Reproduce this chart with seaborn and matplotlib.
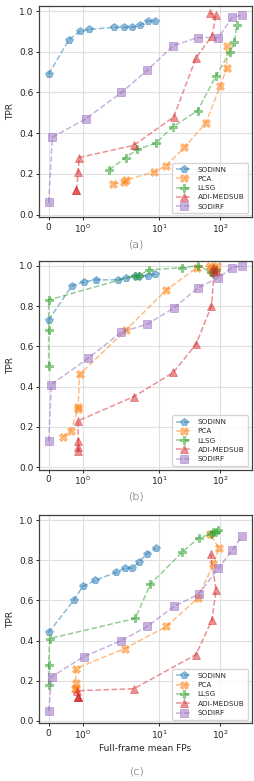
import matplotlib
matplotlib.use("Agg")
import matplotlib.pyplot as plt
import seaborn as sns
import pandas as pd

# --- Data ---
METHODS = ["SODINN", "PCA", "LLSG", "ADI-MEDSUB", "SODIRF"]
PANEL_LABELS = ["(a)", "(b)", "(c)"]
X_TICKS = [0, 1, 10, 100]
X_TICK_LABELS = ["0", "$10^0$", "$10^1$", "$10^2$"]

# panel (a)
A_SODINN_X = [0, 0.6, 0.92, 1.19, 1.94, 2.69, 3.59, 4.79, 6.46, 8.71]
A_SODINN_Y = [0.69, 0.86, 0.90, 0.91, 0.92, 0.92, 0.92, 0.93, 0.95, 0.95]
A_PCA_X = [1.90, 2.69, 2.92, 8.41, 13.0, 26.1, 58.5, 100, 129, 129]
A_PCA_Y = [0.15, 0.16, 0.17, 0.21, 0.24, 0.33, 0.45, 0.63, 0.72, 0.83]
A_LLSG_X = [1.79, 2.84, 4.37, 8.79, 16.6, 42.7, 85.3, 146, 172, 188]
A_LLSG_Y = [0.22, 0.28, 0.32, 0.35, 0.43, 0.51, 0.68, 0.80, 0.85, 0.93]
A_ADI_X = [0.82, 0.82, 0.87, 0.90, 3.85, 17.4, 40.3, 74.2, 85.3, 68.7]
A_ADI_Y = [0.12, 0.12, 0.21, 0.28, 0.34, 0.48, 0.77, 0.88, 0.98, 0.99]
A_SODIRF_X = [0, 0.11, 1.09, 2.42, 6.43, 17.1, 43.3, 94, 159, 229]
A_SODIRF_Y = [0.06, 0.38, 0.47, 0.60, 0.71, 0.83, 0.87, 0.87, 0.97, 0.98]

# panel (b)
B_SODINN_X = [0, 0.68, 1.04, 1.40, 2.09, 2.88, 3.98, 4.73, 6.46, 8.6]
B_SODINN_Y = [0.73, 0.90, 0.92, 0.93, 0.93, 0.94, 0.95, 0.95, 0.95, 0.96]
B_PCA_X = [0.42, 0.65, 0.87, 0.87, 0.91, 2.84, 13.2, 41.8, 68, 72, 78, 85, 90]
B_PCA_Y = [0.15, 0.18, 0.29, 0.30, 0.46, 0.68, 0.88, 0.99, 1.0, 0.98, 0.99, 0.97, 1.0]
B_LLSG_X = [0, 0, 0, 3.98, 4.7, 6.84, 23.7, 42.7, 70, 78, 85]
B_LLSG_Y = [0.50, 0.68, 0.83, 0.95, 0.95, 0.98, 0.99, 1.0, 0.97, 0.96, 0.98]
B_ADI_X = [0.87, 0.87, 0.87, 0.87, 3.85, 17.1, 40.3, 72.3, 80, 85, 76]
B_ADI_Y = [0.08, 0.10, 0.13, 0.23, 0.35, 0.47, 0.61, 0.80, 0.97, 0.98, 0.99]
B_SODIRF_X = [0, 0.08, 1.16, 2.40, 6.43, 17.4, 43.3, 94, 157, 229]
B_SODIRF_Y = [0.13, 0.41, 0.54, 0.67, 0.71, 0.79, 0.89, 0.94, 0.99, 1.0]

# panel (c)
C_SODINN_X = [0, 0.735, 1.01, 1.38, 2.0, 2.72, 3.55, 4.68, 6.24, 8.79]
C_SODINN_Y = [0.44, 0.60, 0.67, 0.70, 0.74, 0.76, 0.76, 0.79, 0.83, 0.86]
C_PCA_X = [0.77, 0.80, 0.80, 0.80, 2.72, 13.2, 42.7, 77.8, 96, 68.7]
C_PCA_Y = [0.16, 0.16, 0.19, 0.26, 0.36, 0.47, 0.61, 0.78, 0.86, 0.93]
C_LLSG_X = [0, 0, 0.03, 4.07, 7.16, 24, 44.3, 70, 78, 86, 94]
C_LLSG_Y = [0.18, 0.28, 0.41, 0.51, 0.68, 0.84, 0.91, 0.93, 0.94, 0.94, 0.95]
C_ADI_X = [0.87, 0.87, 0.87, 0.84, 3.85, 40.3, 73, 86, 70]
C_ADI_Y = [0.12, 0.12, 0.12, 0.15, 0.16, 0.33, 0.50, 0.65, 0.83]
C_SODIRF_X = [0, 0.09, 1.04, 2.42, 6.4, 17.6, 44.3, 94, 159, 229]
C_SODIRF_Y = [0.05, 0.22, 0.32, 0.40, 0.47, 0.57, 0.63, 0.76, 0.85, 0.92]

PANELS = [
    [(A_SODINN_X, A_SODINN_Y), (A_PCA_X, A_PCA_Y), (A_LLSG_X, A_LLSG_Y),
     (A_ADI_X, A_ADI_Y), (A_SODIRF_X, A_SODIRF_Y)],
    [(B_SODINN_X, B_SODINN_Y), (B_PCA_X, B_PCA_Y), (B_LLSG_X, B_LLSG_Y),
     (B_ADI_X, B_ADI_Y), (B_SODIRF_X, B_SODIRF_Y)],
    [(C_SODINN_X, C_SODINN_Y), (C_PCA_X, C_PCA_Y), (C_LLSG_X, C_LLSG_Y),
     (C_ADI_X, C_ADI_Y), (C_SODIRF_X, C_SODIRF_Y)],
]

# --- Style ---
MARKERS = ["p", "X", "P", "^", "s"]
COLORS = ["#1f77b4", "#ff7f0e", "#2ca02c", "#d62728", "#9467bd"]

sns.set_style("whitegrid", {
    "axes.edgecolor": ".25",
    "grid.color": ".88",
    "xtick.bottom": True,
    "ytick.left": True,
})
plt.rcParams["font.family"] = ["DejaVu Sans"]
plt.rcParams["xtick.major.size"] = 2.5
plt.rcParams["ytick.major.size"] = 2.5
plt.rcParams["xtick.major.width"] = 0.7
plt.rcParams["ytick.major.width"] = 0.7
plt.rcParams["axes.linewidth"] = 0.9

fig = plt.figure(figsize=(2.55, 7.81), dpi=100)

# axes boxes in figure fraction: left, bottom, width, height
AX_BOXES = [
    (0.153, 0.7222, 0.834, 0.2701),
    (0.153, 0.3988, 0.834, 0.2674),
    (0.153, 0.0739, 0.834, 0.2667),
]
CAPTION_Y = [0.6863, 0.364, 0.0119]

for p, series in enumerate(PANELS):
    ax = fig.add_axes(AX_BOXES[p])
    for m, (xs, ys) in enumerate(series):
        df = pd.DataFrame({"fp": xs, "tpr": ys})
        sns.lineplot(data=df, x="fp", y="tpr", ax=ax, sort=False, estimator=None,
                     color=COLORS[m], marker=MARKERS[m], markersize=6,
                     markeredgewidth=0.6, markeredgecolor=COLORS[m],
                     linestyle="--", linewidth=1.1, alpha=0.5, label=METHODS[m])
    ax.set_xscale("symlog", linthresh=2)
    ax.set_xticks(X_TICKS)
    ax.set_xticklabels(X_TICK_LABELS)
    ax.xaxis.set_minor_locator(matplotlib.ticker.NullLocator())
    ax.set_ylim(-0.012, 1.025)
    ax.set_yticks([0.0, 0.2, 0.4, 0.6, 0.8, 1.0])
    ax.tick_params(labelsize=6.5, pad=1.5, colors=".15")
    ax.set_ylabel("TPR", fontsize=6.5, labelpad=3)
    if p == 2:
        ax.set_xlabel("Full-frame mean FPs", fontsize=6.5, labelpad=2)
    else:
        ax.set_xlabel("")
    leg = ax.legend(loc="lower right", fontsize=5.2, frameon=True, framealpha=0.8,
                    borderpad=0.5, labelspacing=0.45, handlelength=2.2)
    fig.text(0.537, CAPTION_Y[p], PANEL_LABELS[p], ha="center", va="center",
             fontsize=8, color="#444444", fontweight="light")

fig.savefig("out.png", dpi=100)
